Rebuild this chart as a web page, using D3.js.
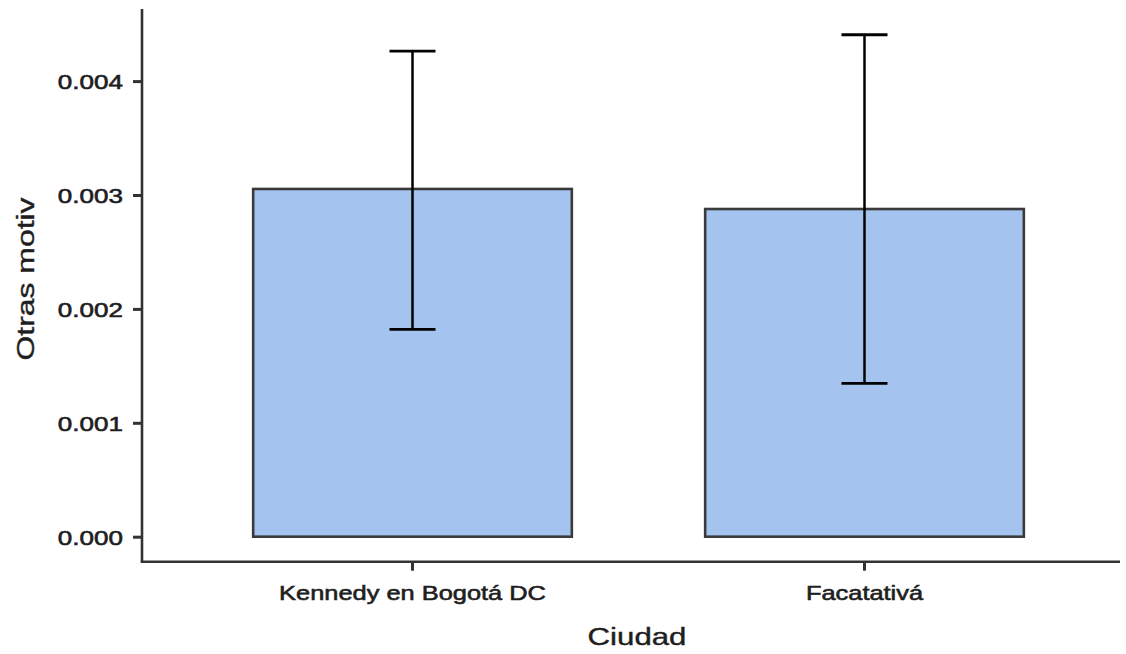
<!DOCTYPE html>
<html><head><meta charset="utf-8">
<script src="https://cdn.jsdelivr.net/npm/d3@7"></script>
<style>html,body{margin:0;padding:0;background:#fff;}svg{display:block;}</style>
</head><body>
<script>
const categories = ["Kennedy en Bogotá DC", "Facatativá"];
const means = [0.003053, 0.002877];
const errLow = [0.001821, 0.001347];
const errHigh = [0.004264, 0.004407];
const yTicks = [0.000, 0.001, 0.002, 0.003, 0.004];
const xTitle = "Ciudad";
const yTitle = "Otras motiv";

const W = 1126, H = 654;
const svg = d3.select("body").append("svg").attr("width", W).attr("height", H);

const axisX = 142, axisY = 561.7, axisTop = 9, axisRight = 1120;
const y = d3.scaleLinear().domain([0, 0.004]).range([536.7, 81.1]);
const x = d3.scaleBand().domain(categories).range([186.5, 1090.5]).paddingInner(0).paddingOuter(0);
const barW = x.bandwidth() * 0.705;

const axisColor = "#333333";
const textColor = "#1e1e1e";
const font = "Liberation Sans, Arial, Helvetica, sans-serif";

// bars
const g = svg.append("g");
g.selectAll("rect.bar").data(categories).join("rect")
  .attr("class", "bar")
  .attr("x", d => x(d) + x.bandwidth()/2 - barW/2)
  .attr("width", barW)
  .attr("y", (d,i) => y(means[i]))
  .attr("height", (d,i) => y(0) - y(means[i]))
  .attr("fill", "#a4c3ef")
  .attr("stroke", "#3a3a3a")
  .attr("stroke-width", 2.6);

// error bars
const capW = 46;
categories.forEach((c, i) => {
  const cx = x(c) + x.bandwidth()/2;
  g.append("line").attr("x1", cx).attr("x2", cx)
    .attr("y1", y(errLow[i])).attr("y2", y(errHigh[i]))
    .attr("stroke", "#000").attr("stroke-width", 2.5);
  [errLow[i], errHigh[i]].forEach(v => {
    g.append("line").attr("x1", cx - capW/2).attr("x2", cx + capW/2)
      .attr("y1", y(v)).attr("y2", y(v))
      .attr("stroke", "#000").attr("stroke-width", 2.8);
  });
});

// y axis
const yAxis = d3.axisLeft(y).tickValues(yTicks).tickFormat(d3.format(".3f")).tickSize(9).tickPadding(10);
const ya = svg.append("g").attr("transform", `translate(${axisX},0)`).call(yAxis);
ya.select(".domain").remove();
ya.selectAll(".tick line").attr("stroke", axisColor).attr("stroke-width", 3);
ya.selectAll(".tick text").attr("fill", textColor).attr("stroke", textColor).attr("stroke-width", 0.6)
  .attr("font-family", font).attr("font-size", 21)
  .attr("dy", "0.36em")
  .attr("transform", function(){ const xx = +d3.select(this).attr("x"); return `translate(${xx*(1-1.24)},0) scale(1.24,1)`; });
svg.append("line").attr("x1", axisX).attr("x2", axisX).attr("y1", axisTop).attr("y2", axisY)
  .attr("stroke", axisColor).attr("stroke-width", 2.6);

// x axis
const xAxis = d3.axisBottom(x).tickSize(9).tickPadding(14);
const xa = svg.append("g").attr("transform", `translate(0,${axisY})`).call(xAxis);
xa.select(".domain").remove();
xa.selectAll(".tick line").attr("stroke", axisColor).attr("stroke-width", 3);
xa.selectAll(".tick text").attr("fill", textColor).attr("stroke", textColor).attr("stroke-width", 0.6)
  .attr("font-family", font).attr("font-size", 21)
  .attr("dy", "0.71em").attr("transform", "scale(1.21,1)");
svg.append("line").attr("x1", axisX - 1.3).attr("x2", axisRight).attr("y1", axisY).attr("y2", axisY)
  .attr("stroke", axisColor).attr("stroke-width", 2.6);

// titles
svg.append("text").attr("transform", "translate(637,645) scale(1.3,1)")
  .attr("text-anchor", "middle").attr("font-family", font).attr("font-size", 24)
  .attr("fill", textColor).attr("stroke", textColor).attr("stroke-width", 0.4)
  .text(xTitle);
svg.append("text").attr("transform", "translate(34,279) rotate(-90) scale(1.33,1)")
  .attr("text-anchor", "middle").attr("font-family", font).attr("font-size", 24)
  .attr("fill", textColor).attr("stroke", textColor).attr("stroke-width", 0.4)
  .text(yTitle);
</script>
</body></html>
